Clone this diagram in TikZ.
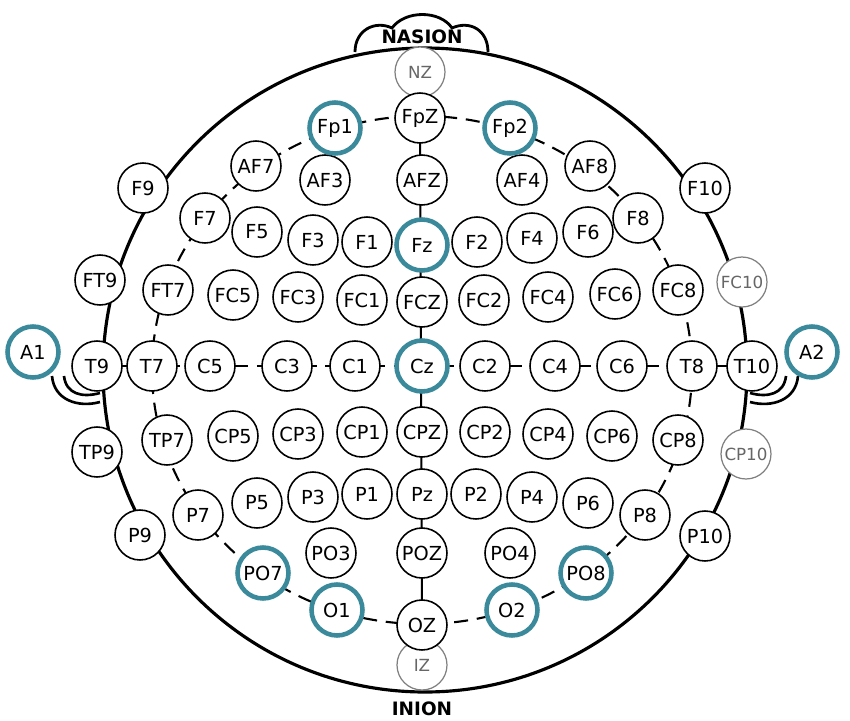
\documentclass[tikz,border=0pt]{standalone}
\usepackage{fontspec}
\setmainfont{DejaVu Sans}
\definecolor{hlc}{HTML}{3A8A9C}
\begin{document}
\begin{tikzpicture}[x=0.02cm,y=-0.02cm,
  el/.style={circle,draw,line width=0.9pt,fill=white,minimum size=1cm,inner sep=0pt,font=\fontsize{11}{12}\selectfont},
  hl/.style={el,draw=hlc,line width=2.6pt,minimum size=1.02cm},
  gr/.style={el,draw=gray,text=gray!80!black,line width=0.7pt,font=\fontsize{9.5}{11}\selectfont}]
\useasboundingbox (0,0) rectangle (850,721);
\fill[white] (0,0) rectangle (850,721);
% head
\draw[line width=1.6pt,fill=white] (355,52) .. controls (355,30) and (375,20) .. (392,28) .. controls (405,10) and (440,10) .. (452,28) .. controls (470,20) and (488,30) .. (488,52);
\draw[line width=1.8pt] (425,370) circle [radius=322];
\node at (422,37) {\fontsize{10.5}{12}\selectfont\bfseries NASION};
\node at (422,709) {\fontsize{10.5}{12}\selectfont\bfseries INION};
\draw[line width=1.5pt] (52,376) .. controls (54,400) and (78,408) .. (100,402);
\draw[line width=1.5pt] (64,376) .. controls (66,394) and (82,398) .. (100,393);
\draw[line width=1.5pt] (798,376) .. controls (796,400) and (772,408) .. (750,402);
\draw[line width=1.5pt] (786,376) .. controls (784,394) and (768,398) .. (750,393);
\draw[line width=1.2pt,dashed,dash pattern=on 8pt off 5pt] (422,370) ellipse [x radius=270, y radius=254];
\draw[line width=1.2pt,dashed,dash pattern=on 8pt off 5pt] (97,366) -- (752,366);
\draw[line width=1.2pt] (420,118) -- (422,625);
% nodes
\node[gr] (NZ) at (420,72) {NZ};
\node[gr] (IZ) at (422,665) {IZ};
\node[gr] (FC10) at (742,282) {FC10};
\node[gr] (CP10) at (746,454) {CP10};
\foreach \n/\x/\y in {FpZ/420/118,AF7/256/166,AF3/325/180,AFZ/422/180,AF4/522/180,AF8/590/166,
 F9/143/188,F10/705/188,F7/205/218,F5/257/232,F3/313/240,F1/367/242,F2/477/242,F4/532/238,F6/588/232,F8/638/218,
 FT9/100/280,FT7/168/290,FC5/233/295,FC3/298/297,FC1/362/300,FCZ/422/302,FC2/484/300,FC4/548/297,FC6/615/294,FC8/678/290,
 T9/97/366,T7/152/366,C5/210/366,C3/287/366,C1/355/366,C2/485/366,C4/555/366,C6/622/366,T8/692/366,T10/752/366,
 TP9/97/452,TP7/167/440,CP5/233/436,CP3/298/434,CP1/362/432,CPZ/422/432,CP2/485/432,CP4/548/434,CP6/612/436,CP8/678/440,
 P9/140/535,P7/198/515,P5/257/503,P3/313/497,P1/367/494,Pz/422/494,P2/476/494,P4/532/497,P6/588/503,P8/645/515,P10/705/536,
 PO3/331/553,POZ/422/553,PO4/510/553,OZ/422/625}
 {\node[el] (\n) at (\x,\y) {\n};}
\foreach \n/\x/\y in {Fp1/335/128,Fp2/510/128,Fz/422/245,Cz/422/366,A1/33/352,A2/812/352,PO7/263/573,PO8/586/573,O1/337/610,O2/512/610}
 {\node[hl] (\n) at (\x,\y) {\n};}
\end{tikzpicture}
\end{document}
